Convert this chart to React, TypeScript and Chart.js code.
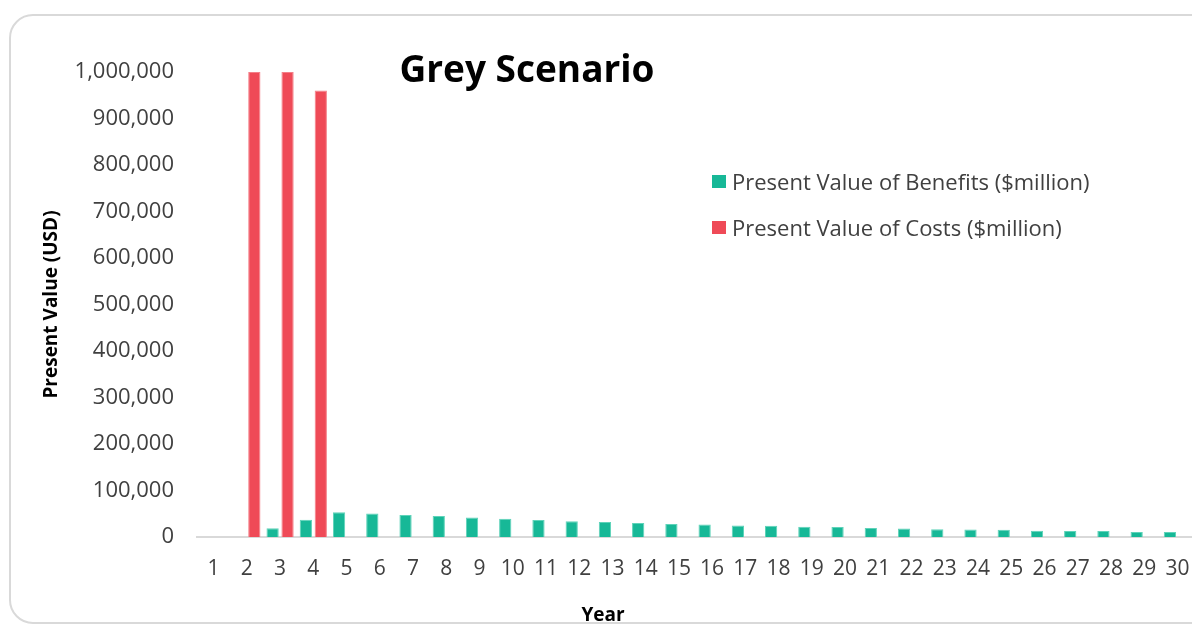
import React, { useEffect, useRef } from "react";
import { Chart, registerables } from "chart.js";

Chart.register(...registerables);

const years: string[] = [
  "1", "2", "3", "4", "5", "6", "7", "8", "9", "10",
  "11", "12", "13", "14", "15", "16", "17", "18", "19", "20",
  "21", "22", "23", "24", "25", "26", "27", "28", "29", "30",
];

const benefits: number[] = [
  0, 0, 19000, 37000, 53000, 50500, 47500, 45000, 42000, 39000,
  36500, 34000, 32500, 30000, 28000, 27000, 25000, 24000, 22000, 21500,
  19500, 18500, 16500, 16000, 15500, 13500, 13000, 13000, 11000, 10500,
];

const costs: number[] = [
  0, 1000000, 1000000, 960000, 0, 0, 0, 0, 0, 0,
  0, 0, 0, 0, 0, 0, 0, 0, 0, 0,
  0, 0, 0, 0, 0, 0, 0, 0, 0, 0,
];

const seriesLabels: string[] = [
  "Present Value of Benefits ($million)",
  "Present Value of Costs ($million)",
];

const chartTitle = "Grey Scenario";
const xTitle = "Year";
const yTitle = "Present Value (USD)";

const GREEN = "#17B897";
const GREEN_EDGE = "#5ED3B9";
const RED = "#EF4A57";
const RED_EDGE = "#F47F88";
const FONT = '"Open Sans", "DejaVu Sans", sans-serif';

export default function App() {
  const canvasRef = useRef<HTMLCanvasElement | null>(null);

  useEffect(() => {
    const canvas = canvasRef.current;
    if (!canvas) return;

    const overlay = {
      id: "overlayText",
      afterDraw(chart: any) {
        const ctx = chart.ctx as CanvasRenderingContext2D;
        const area = chart.chartArea;
        ctx.save();
        // Title
        ctx.fillStyle = "#000000";
        ctx.font = `bold 37px ${FONT}`;
        ctx.textAlign = "center";
        ctx.textBaseline = "alphabetic";
        ctx.fillText(chartTitle, 527, 82);
        // X title
        ctx.font = `bold 19px ${FONT}`;
        ctx.fillText(xTitle, area.left + 406, 621);
        // Legend
        const ds = chart.data.datasets;
        ctx.font = `22px ${FONT}`;
        ctx.textAlign = "left";
        ds.forEach((d: any, i: number) => {
          const cy = 182 + i * 46;
          ctx.fillStyle = d.backgroundColor;
          ctx.fillRect(712, cy - 7, 14, 13);
          ctx.fillStyle = "#404040";
          ctx.fillText(d.label, 732, cy + 7.5);
        });
        ctx.restore();
      },
    };

    const chart = new Chart(canvas, {
      type: "bar",
      data: {
        labels: years,
        datasets: [
          {
            label: seriesLabels[0],
            data: benefits,
            backgroundColor: GREEN,
            borderColor: GREEN_EDGE,
            borderWidth: 1,
            categoryPercentage: 0.9,
            barPercentage: 0.82,
          },
          {
            label: seriesLabels[1],
            data: costs,
            backgroundColor: RED,
            borderColor: RED_EDGE,
            borderWidth: 1,
            categoryPercentage: 0.9,
            barPercentage: 0.82,
          },
        ],
      },
      options: {
        responsive: false,
        animation: false,
        layout: { padding: { left: 0, right: 6, top: 72, bottom: 0 } },
        plugins: {
          legend: { display: false },
          title: { display: false },
          tooltip: { enabled: false },
        },
        scales: {
          x: {
            grid: { display: false, drawTicks: false },
            border: { display: true, color: "#D9D9D9", width: 2 },
            ticks: {
              color: "#404040",
              font: { family: FONT, size: 21 },
              padding: 19,
              maxRotation: 0,
              autoSkip: false,
            },
            afterFit(scale: any) {
              scale.height = 88;
              scale.paddingLeft = 0;
              scale.paddingRight = 0;
            },
          },
          y: {
            min: 0,
            max: 1000000,
            grid: { display: false, drawTicks: false },
            border: { display: false },
            ticks: {
              stepSize: 100000,
              color: "#404040",
              font: { family: FONT, size: 22 },
              padding: 23,
              callback: (v: any) => Number(v).toLocaleString("en-US"),
            },
            title: {
              display: true,
              text: yTitle,
              color: "#000000",
              font: { family: FONT, size: 19, weight: "bold" },
              padding: { top: 40, bottom: 0 },
            },
            afterFit(scale: any) {
              scale.width = 197;
            },
          },
        },
      },
      plugins: [overlay],
    });

    return () => chart.destroy();
  }, []);

  return (
    <div
      style={{
        position: "fixed",
        left: 0,
        top: 0,
        width: 1192,
        height: 625,
        overflow: "hidden",
        background: "#ffffff",
      }}
    >
      <div
        style={{
          position: "absolute",
          left: 9,
          top: 14,
          width: 1300,
          height: 606,
          border: "2px solid #D9D9D9",
          borderRadius: 24,
        }}
      />
      <canvas
        ref={canvasRef}
        width={1200}
        height={625}
        style={{ position: "absolute", left: 0, top: 0, width: 1200, height: 625 }}
      />
    </div>
  );
}
